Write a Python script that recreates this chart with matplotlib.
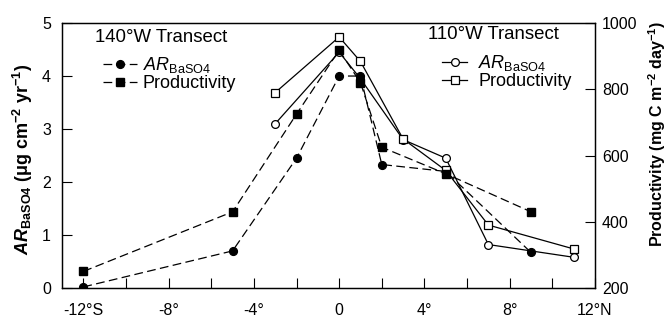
import matplotlib
matplotlib.use('Agg')
import matplotlib.pyplot as plt
from matplotlib.ticker import MultipleLocator, FixedLocator

# 140 W transect (filled symbols, dashed)
lat_140 = [-12, -5, -2, 0, 1, 2, 5, 9]
ar_140 = [0.02, 0.70, 2.45, 4.0, 4.0, 2.33, 2.2, 0.67]
prod_140 = [250, 430, 725, 918, 820, 625, 545, 430]

# 110 W transect (open symbols, solid)
lat_110 = [-3, 0, 1, 3, 5, 7, 11]
ar_110 = [3.1, 4.45, 3.95, 2.8, 2.45, 0.82, 0.58]
prod_110 = [790, 958, 884, 650, 555, 390, 318]

xticks = [-12, -8, -4, 0, 4, 8, 12]
xticklabels = ['-12°S', '-8°', '-4°', '0', '4°', '8°', '12°N']

plt.rcParams['font.family'] = ['Liberation Sans', 'DejaVu Sans']
plt.rcParams['mathtext.fontset'] = 'custom'
plt.rcParams['mathtext.rm'] = 'Liberation Sans'
plt.rcParams['mathtext.it'] = 'Liberation Sans:italic'
plt.rcParams['mathtext.bf'] = 'Liberation Sans:bold'
plt.rcParams['mathtext.bfit'] = 'Liberation Sans:bold:italic'

FS = 11.5
LEG_FS = 13
TITLE_FS = 13.4
DASH = (0, (7, 3.5))
MS_C = 5.6  # circles
MS_S = 6    # squares

fig = plt.figure(figsize=(6.67, 3.2), dpi=100)
ax = fig.add_axes([0.093, 0.1, 0.799, 0.828])
ax2 = ax.twinx()

# left axis: accumulation rates
l110a, = ax.plot(lat_110, ar_110, '-', color='black', lw=0.9, marker='o', ms=MS_C,
                 mfc='white', mec='black', mew=0.9, label=r'$\mathit{AR}_{\mathrm{BaSO4}}$')
l140a, = ax.plot(lat_140, ar_140, color='black', ls=DASH, lw=0.9, marker='o', ms=MS_C,
                 mfc='black', mec='black', label=r'$\mathit{AR}_{\mathrm{BaSO4}}$')

# right axis: productivity
l110p, = ax2.plot(lat_110, prod_110, '-', color='black', lw=0.9, marker='s', ms=MS_S,
                  mfc='white', mec='black', mew=0.9, label='Productivity')
l140p, = ax2.plot(lat_140, prod_140, color='black', ls=DASH, lw=0.9, marker='s', ms=MS_S,
                  mfc='black', mec='black', label='Productivity')

ax.set_xlim(-13, 12)
ax.set_ylim(0, 5)
ax2.set_ylim(200, 1000)
ax.xaxis.set_major_locator(FixedLocator(xticks))
ax.set_xticklabels(xticklabels)
ax.xaxis.set_minor_locator(MultipleLocator(2))
ax.set_yticks([0, 1, 2, 3, 4, 5])
ax2.set_yticks([200, 400, 600, 800, 1000])

for a in (ax, ax2):
    a.tick_params(which='both', direction='in', length=7, width=0.8, labelsize=FS)
    for s in a.spines.values():
        s.set_linewidth(0.9)
ax.tick_params(axis='x', pad=11)
ax.tick_params(axis='y', pad=8)
ax2.tick_params(axis='y', pad=5)

ax.set_ylabel(r'$\mathbfit{AR}_{\mathbf{BaSO4}}$ (μg cm$^{\mathbf{-2}}$ yr$^{\mathbf{-1}}$)',
              fontsize=13, fontweight='bold')
ax.yaxis.set_label_coords(-0.050, 0.485)
ax2.set_ylabel(r'Productivity (mg C m$^{\mathbf{-2}}$ day$^{\mathbf{-1}}$)',
               fontsize=11.5, fontweight='bold')
ax2.yaxis.set_label_coords(1.097, 0.583)

# legends
ax.text(0.062, 0.947, '140°W Transect', transform=ax.transAxes, fontsize=TITLE_FS,
        ha='left', va='center')
ax.text(0.687, 0.958, '110°W Transect', transform=ax.transAxes, fontsize=TITLE_FS,
        ha='left', va='center')

leg1 = ax2.legend([l140a, l140p], [l140a.get_label(), l140p.get_label()],
                  loc='upper left', bbox_to_anchor=(0.077, 0.88), frameon=False,
                  fontsize=LEG_FS, handlelength=1.9, handletextpad=0.3,
                  labelspacing=0.0, borderpad=0, borderaxespad=0)
ax2.add_artist(leg1)
ax2.legend([l110a, l110p], [l110a.get_label(), l110p.get_label()],
           loc='upper left', bbox_to_anchor=(0.713, 0.887), frameon=False,
           fontsize=LEG_FS, handlelength=1.4, handletextpad=0.6,
           labelspacing=0.0, borderpad=0, borderaxespad=0)

plt.savefig('out.png', dpi=100)
plt.close()
